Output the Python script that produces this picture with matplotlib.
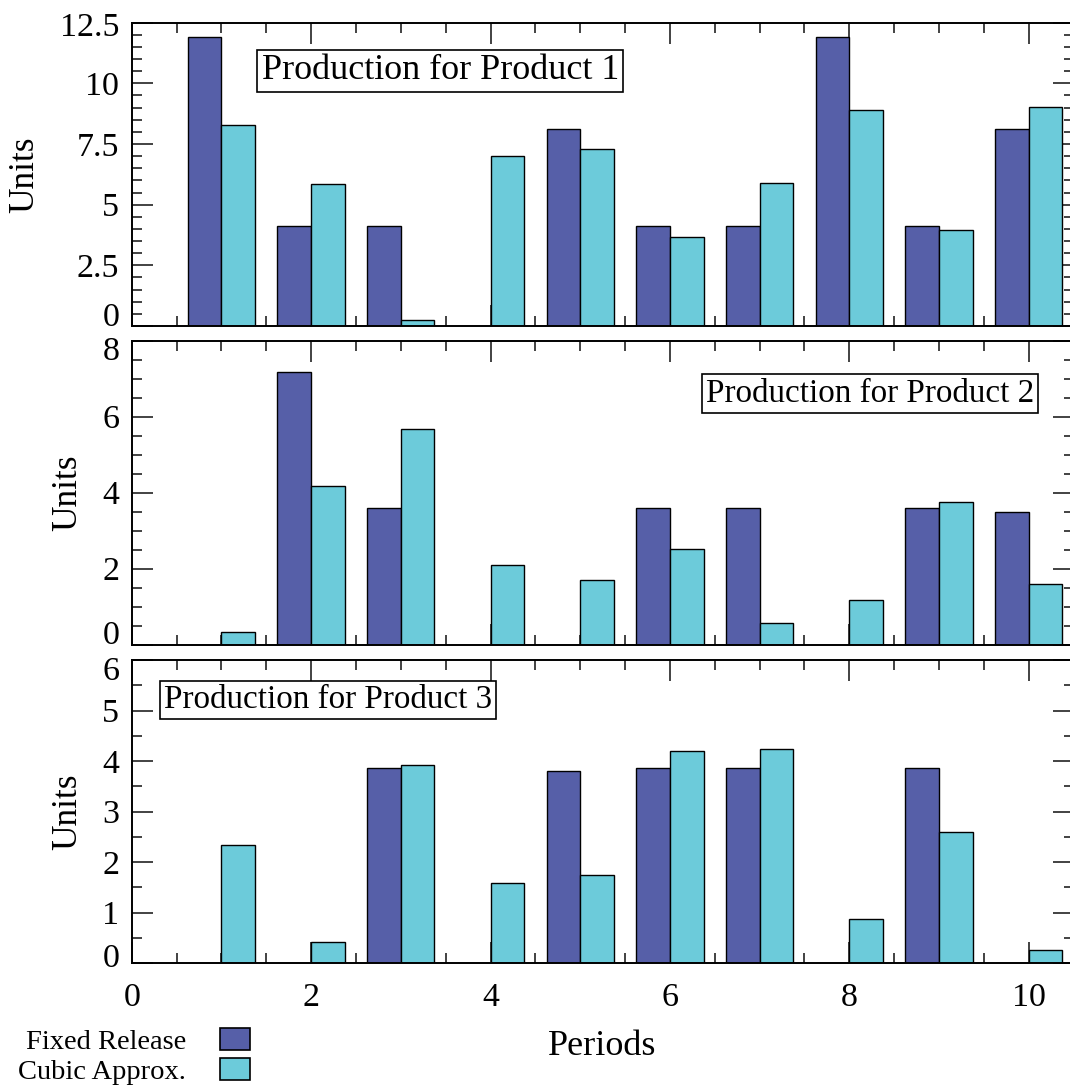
import numpy as np
import matplotlib.pyplot as plt
import matplotlib.transforms as mtransforms
from matplotlib.patches import Patch

plt.rcParams['font.family'] = ['Liberation Serif', 'DejaVu Serif']

periods = np.arange(1, 11)

fixed_p1 = [11.9, 4.12, 4.12, 0, 8.13, 4.12, 4.12, 11.9, 4.12, 8.10]
cubic_p1 = [8.27, 5.85, 0.25, 7.0, 7.28, 3.65, 5.88, 8.89, 3.96, 9.04]

fixed_p2 = [0, 7.17, 3.6, 0, 0, 3.6, 3.6, 0, 3.6, 3.49]
cubic_p2 = [0.33, 4.17, 5.68, 2.1, 1.71, 2.52, 0.56, 1.18, 3.75, 1.6]

fixed_p3 = [0, 0, 3.87, 0, 3.80, 3.87, 3.87, 0, 3.87, 0]
cubic_p3 = [2.35, 0.42, 3.92, 1.58, 1.74, 4.19, 4.24, 0.87, 2.60, 0.26]

titles = ["Production for Product 1", "Production for Product 2", "Production for Product 3"]
yticks = [[0, 2.5, 5, 7.5, 10, 12.5], [0, 2, 4, 6, 8], [0, 1, 2, 3, 4, 5, 6]]
ytick_labels = [["0", "2.5", "5", "7.5", "10", "12.5"],
                ["0", "2", "4", "6", "8"],
                ["0", "1", "2", "3", "4", "5", "6"]]
xticks = [0, 2, 4, 6, 8, 10]
legend_labels = ["Fixed Release", "Cubic Approx."]

c_fixed = "#565fa8"
c_cubic = "#6ccbda"
W, H = 1070, 1091

fig = plt.figure(figsize=(W / 100, H / 100), dpi=100)

# axes boxes in pixels: (top, bottom)
rows = [(22.7, 326.0), (340.7, 644.7), (660.0, 963.3)]
left_px, right_px = 131.7, 1073.6
# title box placement (axes fraction), ha, fontsize
box_pos = [(0.138, 0.841, 'left', 25.9), (0.958, 0.827, 'right', 23.9), (0.034, 0.868, 'left', 23.9)]
# per-panel offsets (px) for the end tick labels: bottom up, top down
end_shift = [(12, 2), (12, 8), (8, 8)]

data = [(fixed_p1, cubic_p1), (fixed_p2, cubic_p2), (fixed_p3, cubic_p3)]
w = 0.375

axes = []
for i, (top, bot) in enumerate(rows):
    ax = fig.add_axes([left_px / W, 1 - bot / H, (right_px - left_px) / W, (bot - top) / H])
    axes.append(ax)
    f, c = data[i]
    ax.bar(periods - w / 2, f, width=w, color=c_fixed, edgecolor='black', linewidth=1.0)
    ax.bar(periods + w / 2, c, width=w, color=c_cubic, edgecolor='black', linewidth=1.0)
    ax.set_xlim(0, 10.5)
    ax.set_ylim(yticks[i][0], yticks[i][-1])
    ax.set_axisbelow(True)
    ax.set_xticks(xticks)
    ax.set_xticks(np.arange(0, 10.51, 0.5), minor=True)
    ax.set_yticks(yticks[i])
    ax.set_yticklabels(ytick_labels[i])
    ax.set_yticks(np.arange(yticks[i][0], yticks[i][-1] + 0.01, 0.5), minor=True)
    ax.tick_params(which='both', direction='in', top=True, right=True, width=1.2, color='#222222')
    ax.tick_params(which='major', length=15)
    ax.tick_params(which='minor', length=7.5)
    ax.tick_params(axis='y', labelsize=24.5, pad=9)
    ax.tick_params(axis='x', labelsize=24.5, pad=14)
    if i < 2:
        ax.tick_params(axis='x', labelbottom=False)
    for s in ax.spines.values():
        s.set_linewidth(1.4)
    ax.set_ylabel("Units", fontsize=25.5, labelpad=13)

    bx, by, ha, fs = box_pos[i]
    ax.text(bx, by, titles[i], transform=ax.transAxes, ha=ha, va='center', fontsize=fs,
            bbox=dict(boxstyle='square,pad=0.12', fc='white', ec='black', lw=1.2))

    # nudge the end tick labels inward like the original
    ticks = ax.yaxis.get_major_ticks()
    up, down = end_shift[i]
    lab0 = ticks[0].label1
    lab0.set_transform(lab0.get_transform() + mtransforms.ScaledTranslation(0, up / 100, fig.dpi_scale_trans))
    labn = ticks[-1].label1
    labn.set_transform(labn.get_transform() + mtransforms.ScaledTranslation(0, -down / 100, fig.dpi_scale_trans))

axes[2].set_xlabel("Periods", fontsize=26, labelpad=12)

handles = [Patch(facecolor=c_fixed, edgecolor='black', linewidth=1.2),
           Patch(facecolor=c_cubic, edgecolor='black', linewidth=1.2)]
fig.legend(handles, legend_labels, loc='upper left', bbox_to_anchor=(18 / W, 1 - 1028 / H),
           markerfirst=False, frameon=False, fontsize=20.5, handlelength=1.05, handleheight=0.8,
           handletextpad=1.2, labelspacing=0.12, borderpad=0, borderaxespad=0)

fig.savefig("out.png", dpi=100)
